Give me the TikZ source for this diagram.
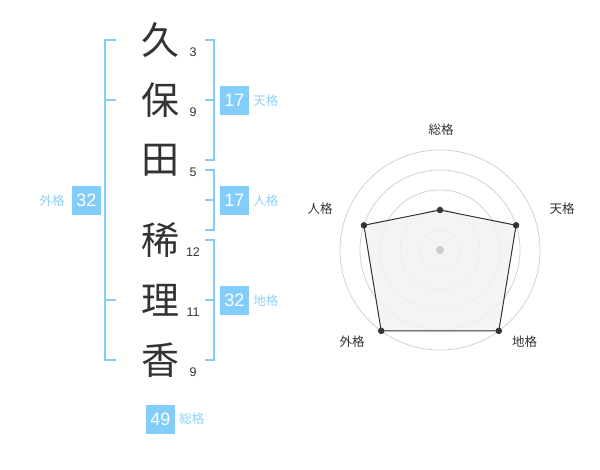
\documentclass[tikz,border=0pt]{standalone}
\usepackage{fontspec}
\setmainfont{Liberation Sans}
\newfontfamily\jp{Noto Sans CJK JP}
\usetikzlibrary{positioning}
\definecolor{kakublue}{HTML}{82CDF9}
\definecolor{kakutext}{HTML}{8DD0F7}
\definecolor{ink}{HTML}{333333}
\definecolor{ring}{HTML}{CCCCCC}
\definecolor{area}{HTML}{F2F2F2}
\tikzset{
  kanji/.style={font=\jp\fontsize{38}{38}\selectfont, text=ink, inner sep=0pt},
  strokes/.style={font=\fontsize{12.5}{12.5}\selectfont, text=ink, inner sep=0pt},
  bracket/.style={draw=kakublue, line width=2pt},
  kakubox/.style={fill=kakublue, text=white, minimum size=29pt, inner sep=0pt,
    font=\fontsize{18}{18}\selectfont},
  kakulabel/.style={text=kakutext, inner sep=0pt, font=\jp\fontsize{12.5}{12.5}\selectfont},
  axislabel/.style={text=ink, inner sep=0pt, font=\jp\fontsize{12.5}{12.5}\selectfont},
  dot/.style={circle, fill=ink, inner sep=0pt, minimum size=6.5pt},
}
\begin{document}
\begin{tikzpicture}[x=1pt, y=-1pt]
    \useasboundingbox (0,0) rectangle (600,470);

    % name
    \node[kanji] (k1) at (160,40) {久};
    \node[kanji] (k2) at (160,100) {保};
    \node[kanji] (k3) at (160,160) {田};
    \node[kanji] (k4) at (160,240) {稀};
    \node[kanji] (k5) at (160,300) {理};
    \node[kanji] (k6) at (160,360) {香};

    \node[strokes] (s1) at (193,52) {3};
    \node[strokes] (s2) at (193,112) {9};
    \node[strokes] (s3) at (193,172) {5};
    \node[strokes] (s4) at (193,252) {12};
    \node[strokes] (s5) at (193,312) {11};
    \node[strokes] (s6) at (193,372) {9};

    % brackets
    \draw[bracket] (116,40) -- (105,40) -- (105,360) -- (116,360);
    \draw[bracket] (105,100) -- (116,100) (105,300) -- (116,300);
    \draw[bracket] (205,40) -- (214,40) -- (214,160) -- (205,160) (205,100) -- (214,100);
    \draw[bracket] (205,170) -- (214,170) -- (214,230) -- (205,230) (205,200) -- (214,200);
    \draw[bracket] (205,240) -- (214,240) -- (214,360) -- (205,360) (205,300) -- (214,300);

    % scores
    \node[kakubox] (ten) at (234.5,100.5) {17};
    \node[kakulabel, right=4pt of ten] (tenl) {天格};
    \node[kakubox] (jin) at (234.5,200.5) {17};
    \node[kakulabel, right=4pt of jin] (jinl) {人格};
    \node[kakubox] (chi) at (234.5,300.5) {32};
    \node[kakulabel, right=4pt of chi] (chil) {地格};
    \node[kakubox] (gai) at (86.5,200.5) {32};
    \node[kakulabel, left=7pt of gai] (gail) {外格};
    \node[kakubox] (sou) at (160.5,419) {49};
    \node[kakulabel, right=4pt of sou] (soul) {総格};

    % radar
    \begin{scope}[shift={(440,250)}]
      \foreach \r in {20,40,60,80,100}
        \draw[ring, line width=0.7pt] (0,0) circle[radius=\r pt];
      \coordinate (p1) at (90:40pt);
      \coordinate (p2) at (18:80pt);
      \coordinate (p3) at (-54:100pt);
      \coordinate (p4) at (-126:100pt);
      \coordinate (p5) at (162:80pt);
      \fill[area, fill opacity=0.85] (p1) -- (p2) -- (p3) -- (p4) -- (p5) -- cycle;
      \fill[ring] (0,0) circle[radius=4pt];
      \draw[ink, line width=1pt, line join=round]
        (p1) -- (p2) -- (p3) -- (p4) -- (p5) -- cycle;
      \foreach \p in {p1,p2,p3,p4,p5}
        \node[dot] at (\p) {};
      \node[axislabel] (a1) at (1,-120) {総格};
      \node[axislabel] (a2) at (122,-41) {天格};
      \node[axislabel] (a3) at (84.5,92) {地格};
      \node[axislabel] (a4) at (-88,92) {外格};
      \node[axislabel] (a5) at (-120,-41) {人格};
    \end{scope}
\end{tikzpicture}
\end{document}
